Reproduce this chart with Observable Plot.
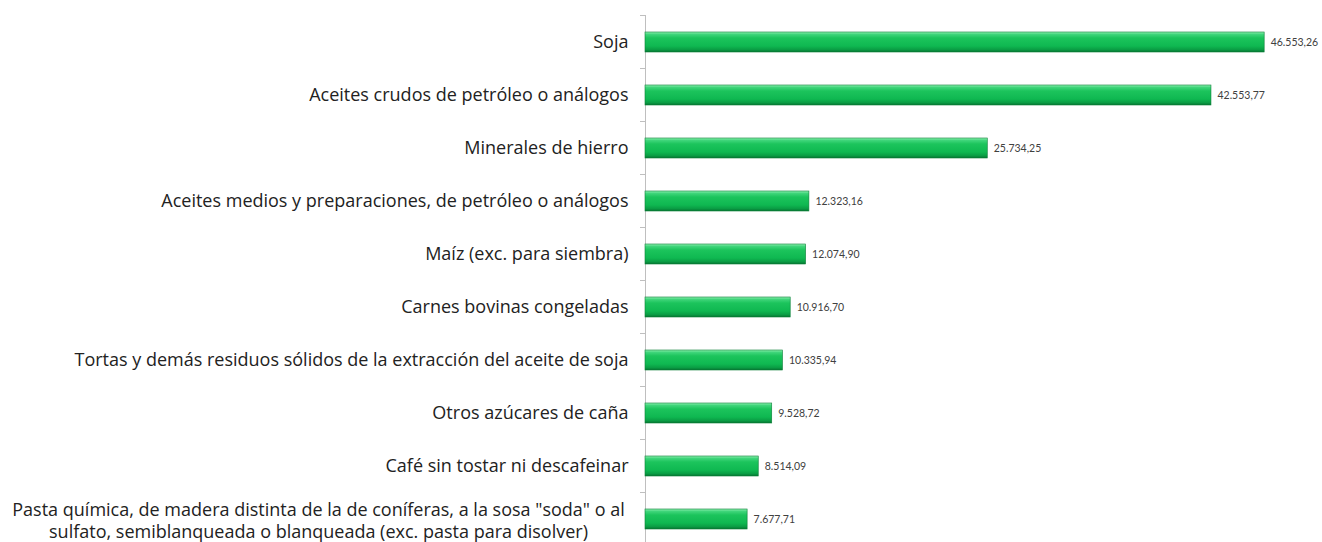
<!DOCTYPE html>
<html><head><meta charset="utf-8">
<script src="https://cdn.jsdelivr.net/npm/d3@7"></script>
<script src="https://cdn.jsdelivr.net/npm/@observablehq/plot@0.6"></script>
<style>body{margin:0;background:#fff;} svg{display:block;}</style>
</head><body><div id="chart"></div>
<script>
const categories = [
  "Soja",
  "Aceites crudos de petróleo o análogos",
  "Minerales de hierro",
  "Aceites medios y preparaciones, de petróleo o análogos",
  "Maíz (exc. para siembra)",
  "Carnes bovinas congeladas",
  "Tortas y demás residuos sólidos de la extracción del aceite de soja",
  "Otros azúcares de caña",
  "Café sin tostar ni descafeinar",
  "Pasta química, de madera distinta de la de coníferas, a la sosa \"soda\" o al\nsulfato, semiblanqueada o blanqueada (exc. pasta para disolver)"
];
const values = [46553.26, 42553.77, 25734.25, 12323.16, 12074.90, 10916.70, 10335.94, 9528.72, 8514.09, 7677.71];
const valueLabels = ["46.553,26", "42.553,77", "25.734,25", "12.323,16", "12.074,90", "10.916,70", "10.335,94", "9.528,72", "8.514,09", "7.677,71"];

const data = categories.map((c, i) => ({name: c, value: values[i], label: valueLabels[i], multi: c.includes("\n")}));

const defs = () => {
  const svg = d3.create("svg:defs");
  const g = svg.append("linearGradient").attr("id", "barGrad").attr("x1", 0).attr("y1", 0).attr("x2", 0).attr("y2", 1);
  [[0, "#8ff0b0"], [0.12, "#3fd57a"], [0.3, "#1cc45c"], [0.7, "#0fb851"], [0.88, "#0a9d44"], [1, "#067532"]]
    .forEach(([o, c]) => g.append("stop").attr("offset", o).attr("stop-color", c));
  return svg.node();
};

const boundaryTicks = (index, scales, values, dimensions) => {
  const y = scales.y;
  const bw = y.bandwidth();
  const step = typeof y.step === "function" ? y.step() : bw / (1 - 0.62);
  const x0 = dimensions.marginLeft;
  const g = d3.create("svg:g").attr("stroke", "#bfbfbf").attr("stroke-width", 1);
  const bounds = categories.map(c => y(c) + bw / 2 - step / 2);
  bounds.push(y(categories[categories.length - 1]) + bw / 2 + step / 2);
  bounds.forEach(b => g.append("line").attr("x1", x0 - 5).attr("x2", x0).attr("y1", b).attr("y2", b));
  return g.node();
};

const chart = Plot.plot({
  width: 1322,
  height: 542,
  marginLeft: 645,
  marginRight: 12,
  marginTop: 15,
  marginBottom: 0,
  style: {fontFamily: "'Open Sans', sans-serif", background: "#fff"},
  x: {domain: [0, 50000], axis: null},
  y: {domain: categories, range: [15, 547], paddingInner: 0.62, paddingOuter: 0.31, axis: null},
  marks: [
    defs,
    Plot.ruleX([0], {stroke: "#bfbfbf", strokeWidth: 1}),
    boundaryTicks,
    Plot.barX(data, {x: "value", y: "name", fill: "url(#barGrad)", stroke: "#0a7f37", strokeWidth: 0.6}),
    Plot.text(data.filter(d => !d.multi), {y: "name", text: "name", frameAnchor: "left", textAnchor: "end", dx: -17, fontSize: 18, fill: "#222"}),
    Plot.text(data.filter(d => d.multi), {y: "name", text: "name", frameAnchor: "left", textAnchor: "middle", dx: -327, fontSize: 18, lineHeight: 1.22, fill: "#222"}),
    Plot.text(data, {x: "value", y: "name", text: "label", textAnchor: "start", dx: 6, fontSize: 10.5, fontFamily: "Lato, sans-serif", fill: "#404040"})
  ]
});
document.getElementById("chart").appendChild(chart);
</script>
</body></html>
